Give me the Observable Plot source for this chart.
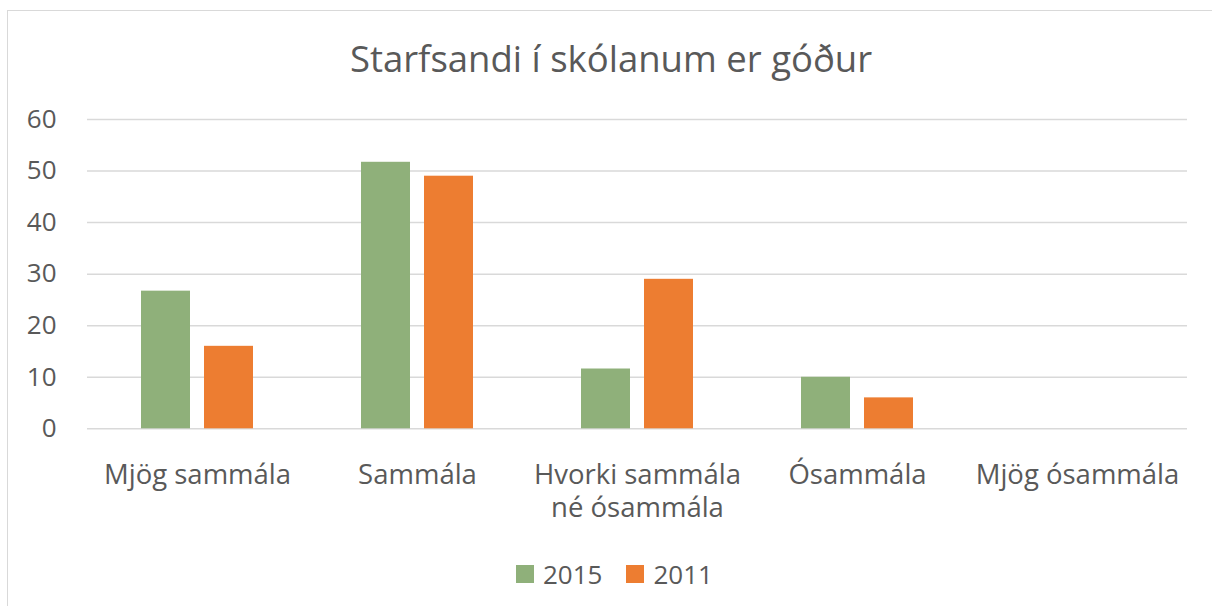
<!DOCTYPE html>
<html>
<head>
<meta charset="utf-8">
<script src="https://cdn.jsdelivr.net/npm/d3@7"></script>
<script src="https://cdn.jsdelivr.net/npm/@observablehq/plot@0.6"></script>
<style>
  html, body { margin: 0; padding: 0; background: #fff; overflow: hidden; width: 1212px; height: 606px; }
  #frame { position: absolute; left: 7px; top: 10px; width: 1300px; height: 700px; border: 1.5px solid #d9d9d9; box-sizing: border-box; }
  #title { position: absolute; left: 0; width: 1222px; top: 40px; text-align: center; font-family: "Open Sans", sans-serif; font-size: 36.5px; line-height: 1; color: #595959; }
  #chart { position: absolute; left: 0; top: 0; }
  #legend { position: absolute; left: 516px; top: 556px; display: flex; align-items: center; font-family: "Open Sans", sans-serif; font-size: 26px; color: #595959; }
  .item { display: flex; align-items: center; margin-right: 24px; }
  .sw { width: 18px; height: 18px; margin-right: 9px; }
</style>
</head>
<body>
<div id="frame"></div>
<div id="title">Starfsandi í skólanum er góður</div>
<div id="chart"></div>
<div id="legend"></div>
<script>
const categories = ["Mjög sammála", "Sammála", "Hvorki sammála\nné ósammála", "Ósammála", "Mjög ósammála"];
const seriesNames = ["2015", "2011"];
const values2015 = [26.7, 51.7, 11.6, 10.0, 0];
const values2011 = [16.0, 49.0, 29.0, 6.0, 0];
const yTicks = [0, 10, 20, 30, 40, 50, 60];
const seriesColors = ["#8fb07a", "#ed7d31"];

const data = [];
categories.forEach((c, i) => {
  data.push({category: c, year: seriesNames[0], value: values2015[i]});
  data.push({category: c, year: seriesNames[1], value: values2011[i]});
});

const chart = Plot.plot({
  width: 1212,
  height: 540,
  marginTop: 119,
  marginBottom: 111.7,
  marginLeft: 86,
  marginRight: 25,
  style: {fontFamily: "Open Sans, sans-serif", fontSize: "26px", color: "#595959", background: "transparent"},
  fx: {domain: categories, padding: 0, label: null},
  x: {domain: seriesNames, paddingInner: 0.222, paddingOuter: 0.857, axis: null},
  y: {domain: [0, 60], label: null},
  color: {domain: seriesNames, range: seriesColors},
  marks: [
    Plot.gridY(yTicks, {stroke: "#d9d9d9", strokeOpacity: 1, strokeWidth: 1.5}),
    Plot.barY(data, {fx: "category", x: "year", y: "value", fill: "year"}),
    Plot.axisY(yTicks, {tickSize: 0, tickPadding: 31, fontSize: 26, fill: "#595959", label: null}),
    Plot.axisFx({anchor: "bottom", tickSize: 0, tickPadding: 32, fontSize: 27.5, fill: "#595959", lineHeight: 1.2, label: null})
  ]
});
document.getElementById("chart").appendChild(chart);

const legend = document.getElementById("legend");
seriesNames.forEach((s, i) => {
  const item = document.createElement("div");
  item.className = "item";
  const sw = document.createElement("div");
  sw.className = "sw";
  sw.style.background = seriesColors[i];
  const t = document.createElement("span");
  t.textContent = s;
  item.appendChild(sw);
  item.appendChild(t);
  legend.appendChild(item);
});
</script>
</body>
</html>
